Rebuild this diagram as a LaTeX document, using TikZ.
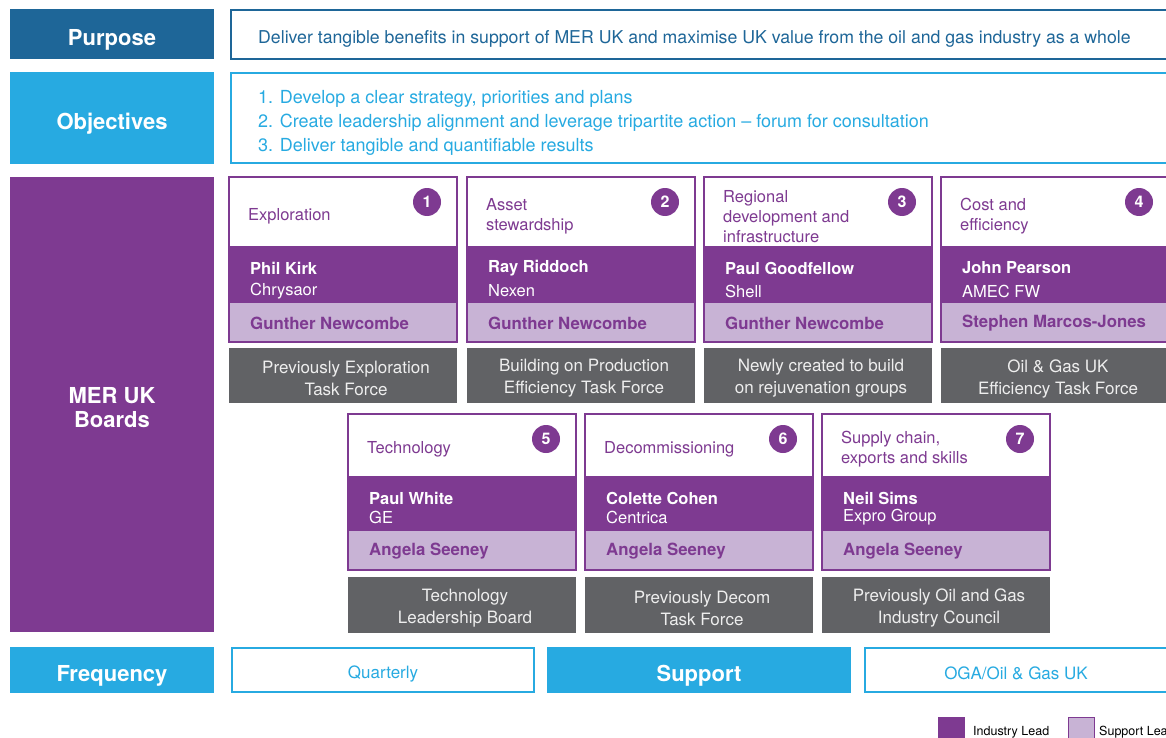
\documentclass[tikz,border=0pt]{standalone}
\usepackage{fontspec}
\setmainfont{TeX Gyre Heros}
\definecolor{dblue}{HTML}{1E6698}
\definecolor{lblue}{HTML}{27AAE1}
\definecolor{mpurple}{HTML}{7E3A91}
\definecolor{lpurple}{HTML}{C8B3D5}
\definecolor{mgray}{HTML}{616265}
\definecolor{gtext}{HTML}{EEEEEE}
\tikzset{
  box/.style={inner sep=0pt, outer sep=0pt, anchor=north west},
  headlabel/.style={text=white, font=\bfseries\fontsize{22}{24}\selectfont, align=center, yshift=-5.5pt},
  titletext/.style={text=mpurple, font=\fontsize{16.5}{20}\selectfont, align=left, anchor=west, inner sep=0pt},
  nametext/.style={text=white, font=\bfseries\fontsize{16.5}{20}\selectfont, anchor=west, inner sep=0pt},
  comptext/.style={text=white, font=\fontsize{16.5}{20}\selectfont, anchor=west, inner sep=0pt},
  supptext/.style={text=mpurple, font=\bfseries\fontsize{16.8}{20}\selectfont, anchor=west, inner sep=0pt},
  graytext/.style={text=gtext, font=\fontsize{17}{22}\selectfont, align=center, inner sep=0pt},
  numcircle/.style={circle, fill=mpurple, minimum size=28pt, inner sep=0pt, text=white, font=\bfseries\fontsize{16}{16}\selectfont},
  freqtext/.style={text=lblue, font=\fontsize{17}{20}\selectfont, yshift=-4pt},
}
% #1 id, #2 x, #3 y, #4 number, #5 title, #6 name, #7 company, #8 support, #9 gray text
\newcommand\boardcard[9]{%
  \node[box, fill=white, minimum width=228pt, minimum height=\wh pt] (#1w) at (#2,#3) {};
  \node[box, fill=mpurple, minimum width=228pt, minimum height=\dh pt] (#1d) at (#2,#3+\wh) {};
  \node[box, fill=lpurple, minimum width=228pt, minimum height=\lh pt] (#1l) at (#2,#3+\wh+\dh) {};
  \draw[mpurple, line width=2pt] (#1w.north west) rectangle (#1l.south east);
  \node[box, fill=mgray, minimum width=228pt, minimum height=\gh pt] (#1g) at (#2,#3+\wh+\dh+\lh+\gp) {};
  \node[titletext] (#1t) at (#2+19,#3+\wh/2+\ty) {#5};
  \node[numcircle] (#1n) at (#2+198,#3+25) {#4};
  \node[nametext] (#1a) at (#2+21,#3+\wh+22) {#6};
  \node[comptext] (#1c) at (#2+21,#3+\wh+\cy) {#7};
  \node[supptext] (#1s) at (#2+21,#3+\wh+\dh+\lh/2+1) {#8};
  \node[graytext] (#1x) at ([xshift=3pt,yshift=-3pt]#1g.center) {#9};
}
\begin{document}
\begin{tikzpicture}[x=1pt,y=-1pt]
\useasboundingbox (0,0) rectangle (1166,738);
\clip (0,0) rectangle (1166,738);
% left headers
\node[box, fill=dblue, minimum width=204pt, minimum height=50pt] (purp) at (10,9) {};
\node[headlabel] (purpl) at (purp.center) {Purpose};
\node[box, fill=lblue, minimum width=204pt, minimum height=92pt] (obj) at (10,72) {};
\node[headlabel] (objl) at (obj.center) {Objectives};
\node[box, fill=mpurple, minimum width=204pt, minimum height=455pt] (mer) at (10,177) {};
\node[headlabel, yshift=5.5pt] (merl) at (112,408) {MER UK\\Boards};
\node[box, fill=lblue, minimum width=204pt, minimum height=46pt] (freq) at (10,647) {};
\node[headlabel] (freql) at (freq.center) {Frequency};
% purpose / objectives content
\draw[dblue, line width=2pt] (231,10) rectangle (1180,59);
\node[anchor=west, inner sep=0pt, text=dblue, font=\fontsize{17.7}{20}\selectfont] (purpt) at (258,39) {Deliver tangible benefits in support of MER UK and maximise UK value from the oil and gas industry as a whole};
\draw[lblue, line width=2pt] (231,73) rectangle (1180,163);
\node[anchor=west, inner sep=0pt, text=lblue, font=\fontsize{18}{24}\selectfont, align=left] (objt) at (258,123) {1. Develop a clear strategy, priorities and plans\\2. Create leadership alignment and leverage tripartite action -- forum for consultation\\3. Deliver tangible and quantifiable results};
% row 1 cards
\def\wh{69}\def\dh{57}\def\lh{39}\def\gp{6}\def\gh{55}\def\ty{5}\def\cy{45}
\boardcard{b1}{229}{177}{1}{Exploration}{Phil Kirk}{Chrysaor}{Gunther Newcombe}{Previously Exploration\\Task Force}
\boardcard{b2}{467}{177}{2}{Asset\\stewardship}{Ray Riddoch}{Nexen}{Gunther Newcombe}{Building on Production\\Efficiency Task Force}
\boardcard{b3}{704}{177}{3}{Regional\\development and\\infrastructure}{Paul Goodfellow}{Shell}{Gunther Newcombe}{Newly created to build\\on rejuvenation groups}
\boardcard{b4}{941}{177}{4}{Cost and\\efficiency}{John Pearson}{AMEC FW}{Stephen Marcos-Jones}{Oil \& Gas UK\\Efficiency Task Force}
% row 2 cards
\def\wh{62}\def\dh{55}\def\lh{39}\def\gp{7}\def\gh{56}\def\ty{4}\def\cy{41}
\boardcard{b5}{348}{414}{5}{Technology}{Paul White}{GE}{Angela Seeney}{Technology\\Leadership Board}
\boardcard{b6}{585}{414}{6}{Decommissioning}{Colette Cohen}{Centrica}{Angela Seeney}{Previously Decom\\Task Force}
\boardcard{b7}{822}{414}{7}{Supply chain,\\exports and skills}{Neil Sims}{Expro Group}{Angela Seeney}{Previously Oil and Gas\\Industry Council}
% frequency row
\node[box, draw=lblue, line width=2pt, fill=white, minimum width=302pt, minimum height=44pt] (quar) at (232,648) {};
\node[freqtext] (quarl) at (quar.center) {Quarterly};
\node[box, fill=lblue, minimum width=304pt, minimum height=46pt] (supp) at (547,647) {};
\node[headlabel] (suppl) at (supp.center) {Support};
\node[box, draw=lblue, line width=2pt, fill=white, minimum width=330pt, minimum height=44pt] (oga) at (865,648) {};
\node[freqtext] (ogal) at (1016,669) {OGA/Oil \& Gas UK};
% legend
\node[box, fill=mpurple, minimum width=27pt, minimum height=24pt] (leg1) at (938,717) {};
\node[anchor=west, inner sep=0pt, font=\fontsize{12.5}{14}\selectfont] (leg1t) at (973,732) {Industry Lead};
\node[box, fill=lpurple, draw=mpurple, line width=1pt, minimum width=26pt, minimum height=24pt] (leg2) at (1068,717) {};
\node[anchor=west, inner sep=0pt, font=\fontsize{12.5}{14}\selectfont] (leg2t) at (1099,732) {Support Lead};
\end{tikzpicture}
\end{document}
